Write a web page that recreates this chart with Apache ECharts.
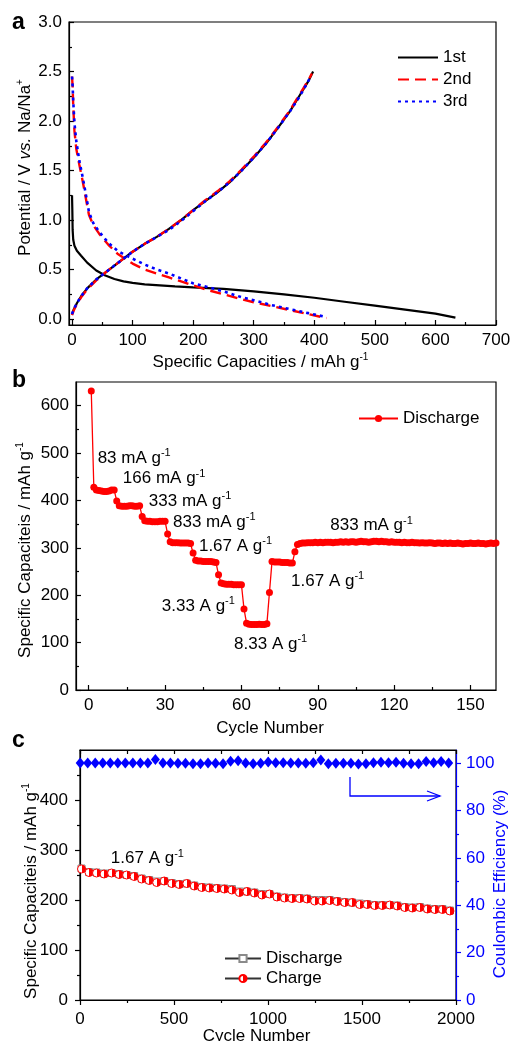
<!DOCTYPE html>
<html><head><meta charset="utf-8">
<script src="https://cdn.jsdelivr.net/npm/echarts@6/dist/echarts.min.js"></script>
<style>html,body{margin:0;padding:0;background:#fff}#c{width:510px;height:1041px}</style>
</head><body><div id="c"></div>
<script>
// ---------- Panel a: galvanostatic profiles (capacity mAh/g, potential V) ----------
const disch1 = [[0,1.25],[0.5,1.1],[1,0.9],[2,0.8],[4,0.74],[8,0.69],[15,0.64],[25,0.57],[40,0.49],[55,0.44],[70,0.405],[85,0.38],[100,0.365],[120,0.35],[145,0.34],[170,0.33],[200,0.32],[250,0.305],[300,0.28],[350,0.25],[400,0.215],[450,0.175],[500,0.135],[550,0.095],[600,0.055],[633,0.015]];
const charge1 = [[0,0.05],[3,0.1],[8,0.16],[15,0.23],[25,0.31],[40,0.4],[55,0.47],[70,0.54],[85,0.61],[100,0.68],[120,0.76],[140,0.83],[160,0.91],[180,1.0],[200,1.1],[220,1.19],[240,1.28],[260,1.38],[280,1.5],[300,1.63],[320,1.77],[340,1.93],[360,2.1],[375,2.25],[390,2.4],[398,2.5]];
const disch2 = [[0,2.45],[1,2.35],[2,2.15],[4,1.9],[7,1.72],[12,1.56],[18,1.38],[24,1.18],[28,1.05],[35,0.95],[45,0.86],[60,0.75],[75,0.66],[90,0.6],[100,0.56],[120,0.5],[140,0.46],[160,0.42],[180,0.38],[200,0.34],[220,0.3],[250,0.25],[280,0.2],[300,0.17],[330,0.13],[360,0.09],[390,0.05],[420,0.01]];
const charge2 = [[0,0.04],[3,0.09],[8,0.15],[15,0.22],[25,0.3],[40,0.39],[55,0.47],[70,0.54],[85,0.61],[100,0.68],[120,0.76],[140,0.83],[160,0.91],[180,1.0],[200,1.1],[220,1.2],[240,1.29],[260,1.39],[280,1.51],[300,1.64],[320,1.78],[340,1.94],[360,2.11],[375,2.26],[390,2.41],[396,2.48]];
const disch3 = [[0,2.45],[1,2.35],[2,2.2],[4,1.98],[7,1.8],[12,1.6],[18,1.42],[24,1.22],[28,1.08],[35,0.97],[45,0.88],[60,0.77],[75,0.69],[90,0.64],[100,0.61],[120,0.55],[140,0.5],[160,0.46],[180,0.41],[200,0.36],[220,0.33],[250,0.28],[280,0.22],[300,0.19],[330,0.14],[360,0.1],[390,0.06],[420,0.02]];
const charge3 = [[0,0.05],[3,0.1],[8,0.16],[15,0.23],[25,0.31],[40,0.4],[55,0.47],[70,0.54],[85,0.61],[100,0.68],[120,0.76],[140,0.83],[160,0.9],[180,0.99],[200,1.09],[220,1.19],[240,1.28],[260,1.38],[280,1.5],[300,1.63],[320,1.77],[340,1.93],[360,2.1],[375,2.24],[388,2.38],[394,2.45]];
const legendA = ['1st','2nd','3rd'];
const ticksAx = [0,100,200,300,400,500,600,700];
const minorAx = [50,150,250,350,450,550,650];
const ticksAy = [0,0.5,1.0,1.5,2.0,2.5,3.0];
const minorAy = [0.25,0.75,1.25,1.75,2.25,2.75];

// ---------- Panel b: rate capability (discharge capacity per cycle) ----------
const rateDischarge = [631,
 428,422,421,420,419,419,420,422,422,
 399,389,388,388,388,389,389,388,388,389,
 366,357,356,356,355,355,355,356,356,356,
 329,313,311,311,311,310,310,310,310,309,
 289,274,272,272,271,271,271,271,270,269,
 243,226,224,223,223,223,222,222,222,222,
 171,141,139,138,138,138,139,138,138,140,
 206,271,270,270,270,269,269,269,268,268,
 292,307,309,310,310,311,311,311,312,311,
 312,311,312,312,312,311,312,312,313,312,
 313,312,313,313,312,313,314,313,313,312,
 313,314,314,313,314,313,313,312,313,312,
 312,312,311,312,311,311,312,311,311,310,
 311,310,310,311,310,309,310,310,309,310,
 309,310,309,309,310,309,308,309,309,310,
 309,309,310,309,309,308,309,310,309,310];
const ticksBx = [0,30,60,90,120,150];
const minorBx = [15,45,75,105,135];
const ticksBy = [0,100,200,300,400,500,600];
const minorBy = [50,150,250,350,450,550];
const rateLabels = [
 [3.5,490,'83 mA g'],[13.4,446,'166 mA g'],[23.6,398,'333 mA g'],[33.1,354,'833 mA g'],
 [43.3,303,'1.67 A g'],[28.7,177,'3.33 A g'],[57.1,97,'8.33 A g'],[79.5,230,'1.67 A g'],[94.9,347,'833 mA g']];

// ---------- Panel c: long cycling at 1.67 A/g ----------
const capCycles = [8,48,88,128,168,208,248,288,328,368,408,448,488,528,568,608,648,688,728,768,808,848,888,928,968,1008,1048,1088,1128,1168,1208,1248,1288,1328,1368,1408,1448,1488,1528,1568,1608,1648,1688,1728,1768,1808,1848,1888,1928,1968];
const capCharge = [262,255,254,252,254,251,250,247,242,239,235,238,233,231,233,228,225,224,223,222,220,215,217,214,210,212,206,204,203,203,202,198,198,199,197,195,195,191,191,189,189,190,188,185,184,185,182,181,181,178];
const capDischarge = [263,256,255,253,254,252,250,248,243,240,237,238,234,232,233,229,226,225,224,223,222,217,217,215,212,212,207,205,204,204,203,200,200,200,198,196,195,193,192,190,190,190,189,186,185,186,183,182,182,179];
const ceCycles = [1,41,81,121,161,201,241,281,321,361,401,441,481,521,561,601,641,681,721,761,801,841,881,921,961,1001,1041,1081,1121,1161,1201,1241,1281,1321,1361,1401,1441,1481,1521,1561,1601,1641,1681,1721,1761,1801,1841,1881,1921,1961];
const ceValues = [100,100,100,100,100,100,100,100,100,100,101.5,100,100,99.9,99.9,99.7,99.7,100,99.9,99.7,100.7,101.0,100,99.7,99.9,100.4,100.1,100.1,100,100,99.9,100.1,101.3,99.7,99.9,99.9,99.9,99.6,99.7,100.1,100.3,100.1,100.3,99.9,99.7,99.7,100.6,100.1,100.6,100];
const ticksCx = [0,500,1000,1500,2000];
const minorCx = [250,750,1250,1750];
const ticksCy = [0,100,200,300,400];
const minorCy = [50,150,250,350,450];
const ticksCr = [0,20,40,60,80,100];
const minorCr = [10,30,50,70,90];
const cycLabel = [[164,283,'1.67 A g']];

// ---------- styling helpers ----------
const FONT = '"Liberation Sans", Arial, Helvetica, sans-serif';
const BLK = '#000';
const FS = 17;
const RICH = {
  t: {fontFamily: FONT, fontSize: FS, color: BLK, lineHeight: 21},
  i: {fontFamily: FONT, fontSize: FS, color: BLK, fontStyle: 'italic', lineHeight: 21},
  s: {fontFamily: FONT, fontSize: 10, color: BLK, verticalAlign: 'top', lineHeight: 12}
};
const LBL_RICH = {
  t: {fontFamily: FONT, fontSize: 17, color: BLK, lineHeight: 21},
  s: {fontFamily: FONT, fontSize: 11, color: BLK, verticalAlign: 'top', lineHeight: 12}
};

function mainAxis(o) {
  const color = o.color || BLK;
  const nts = o.nameRich ? {rich: o.nameRich} : {fontFamily: FONT, fontSize: FS, color: color, lineHeight: 21};
  if (o.namePad) nts.padding = o.namePad;
  return {
    type: 'value', gridIndex: o.grid, position: o.position, min: o.min, max: o.max,
    name: o.name || '', nameLocation: 'middle', nameGap: o.nameGap, nameMoveOverlap: false,
    nameTextStyle: nts,
    axisLine: {show: true, onZero: false, lineStyle: {color: color, width: 1.2}},
    axisTick: {show: true, inside: o.inside, length: 5, customValues: o.ticks, lineStyle: {color: color, width: 1.2}},
    axisLabel: {show: true, customValues: o.ticks, margin: o.margin, fontFamily: FONT, fontSize: FS, color: color,
      formatter: o.fmt || (v => String(v))},
    splitLine: {show: false}, minorTick: {show: false}
  };
}
function minorAxis(o) {
  const color = o.color || BLK;
  return {
    type: 'value', gridIndex: o.grid, position: o.position, min: o.min, max: o.max,
    axisLine: {show: !!o.line, onZero: false, lineStyle: {color: color, width: 1.2}},
    axisTick: {show: true, inside: o.inside, length: o.len || 3, customValues: o.ticks, lineStyle: {color: color, width: 1.2}},
    axisLabel: {show: false}, splitLine: {show: false}
  };
}

const ax = [-5, 700], ay = [-0.06, 3.0];
const bx = [-5, 160], by = [0, 650];
const cx = [0, 2000], cy = [0, 500], cr = [0, 105.5];

const xAxes = [
  mainAxis({grid:0, position:'bottom', min:ax[0], max:ax[1], ticks:ticksAx, inside:true, margin:7,
    name:'{t|Specific Capacities / mAh g}{s|-1}', nameRich: RICH, nameGap: 27, namePad:[0,44,0,0]}),
  minorAxis({grid:0, position:'bottom', min:ax[0], max:ax[1], ticks:minorAx, inside:true}),
  mainAxis({grid:1, position:'bottom', min:bx[0], max:bx[1], ticks:ticksBx, inside:true, margin:7,
    name:'Cycle Number', nameGap: 28, namePad:[0,32,0,0]}),
  minorAxis({grid:1, position:'bottom', min:bx[0], max:bx[1], ticks:minorBx, inside:true}),
  mainAxis({grid:2, position:'bottom', min:cx[0], max:cx[1], ticks:ticksCx, inside:false, margin:11,
    name:'Cycle Number', nameGap: 26, namePad:[0,23,0,0]}),
  minorAxis({grid:2, position:'bottom', min:cx[0], max:cx[1], ticks:minorCx, inside:false}),
  minorAxis({grid:2, position:'top', min:cx[0], max:cx[1], ticks:ticksCx.concat(minorCx), inside:true, line:true, len:4})
];

const yAxes = [
  mainAxis({grid:0, position:'left', min:ay[0], max:ay[1], ticks:ticksAy, inside:true, margin:7,
    fmt: v => v.toFixed(1),
    name:'{t|Potential / V }{i|vs.}{t| Na/Na}{s|+}', nameRich: RICH, nameGap: 33, namePad:[0,0,0,12]}),
  minorAxis({grid:0, position:'left', min:ay[0], max:ay[1], ticks:minorAy, inside:true}),
  mainAxis({grid:1, position:'left', min:by[0], max:by[1], ticks:ticksBy, inside:true, margin:7,
    name:'{t|Specific Capaciteis / mAh g}{s|-1}', nameRich: RICH, nameGap: 40, namePad:[0,28,0,0]}),
  minorAxis({grid:1, position:'left', min:by[0], max:by[1], ticks:minorBy, inside:true}),
  mainAxis({grid:2, position:'left', min:cy[0], max:cy[1], ticks:ticksCy, inside:false, margin:12,
    name:'{t|Specific Capaciteis / mAh g}{s|-1}', nameRich: RICH, nameGap: 38, namePad:[0,32,0,0]}),
  mainAxis({grid:2, position:'right', min:cr[0], max:cr[1], ticks:ticksCr, inside:false, margin:10, color:'#0000ff',
    name:'Coulombic Efficiency (%)', nameGap: 34, namePad:[0,18,0,0]}),
  minorAxis({grid:2, position:'left', min:cy[0], max:cy[1], ticks:minorCy, inside:false}),
  minorAxis({grid:2, position:'right', min:cr[0], max:cr[1], ticks:minorCr, inside:false, color:'#0000ff'})
];

function annot(list, xi, yi) {
  return {
    type: 'scatter', xAxisIndex: xi, yAxisIndex: yi, symbolSize: 0, silent: true, z: 10,
    itemStyle: {opacity: 1},
    data: list.map(d => ({value: [d[0], d[1]], name: d[2]})),
    label: {show: true, position: 'right', distance: 0, color: BLK, opacity: 1,
      formatter: p => '{t|' + p.name + '}{s|-1}', rich: LBL_RICH}
  };
}

const halfFill = new echarts.graphic.LinearGradient(0, 0, 1, 0, [
  {offset: 0, color: '#ffffff'}, {offset: 0.5, color: '#ffffff'},
  {offset: 0.5, color: '#ff0000'}, {offset: 1, color: '#ff0000'}]);

const series = [
  {name:'1st', type:'line', xAxisIndex:0, yAxisIndex:0, data:disch1, symbol:'none', color:BLK, lineStyle:{color:BLK,width:2.2}},
  {name:'1st', type:'line', xAxisIndex:0, yAxisIndex:0, data:charge1, symbol:'none', color:BLK, lineStyle:{color:BLK,width:2.2}},
  {name:'2nd', type:'line', xAxisIndex:0, yAxisIndex:0, data:disch2, symbol:'none', color:'#ff0000', lineStyle:{color:'#ff0000',width:2.4,type:[11,6]}},
  {name:'2nd', type:'line', xAxisIndex:0, yAxisIndex:0, data:charge2, symbol:'none', color:'#ff0000', lineStyle:{color:'#ff0000',width:2.4,type:[11,6]}},
  {name:'3rd', type:'line', xAxisIndex:0, yAxisIndex:0, data:disch3, symbol:'none', color:'#0000ff', lineStyle:{color:'#0000ff',width:2.6,type:[3,4]}},
  {name:'3rd', type:'line', xAxisIndex:0, yAxisIndex:0, data:charge3, symbol:'none', color:'#0000ff', lineStyle:{color:'#0000ff',width:2.6,type:[3,4]}},
  {name:'Discharge', type:'line', xAxisIndex:2, yAxisIndex:2, data: rateDischarge.map((v,i) => [i+1, v]),
    symbol:'circle', symbolSize:7, color:'#ff0000', itemStyle:{color:'#ff0000'}, lineStyle:{color:'#ff0000', width:1.3}},
  annot(rateLabels, 2, 2),
  {name:'c-Discharge', type:'line', xAxisIndex:4, yAxisIndex:4, data: capCycles.map((c,i) => [c, capDischarge[i]]),
    symbol:'rect', symbolSize:7, itemStyle:{color:'#ffffff', borderColor:'#8a8a8a', borderWidth:1}, lineStyle:{color:'#333', width:1.2}},
  {name:'c-Charge', type:'line', xAxisIndex:4, yAxisIndex:4, data: capCycles.map((c,i) => [c, capCharge[i]]),
    symbol:'circle', symbolSize:8, itemStyle:{color:halfFill, borderColor:'#ff0000', borderWidth:1}, lineStyle:{color:'#333', width:1.2}},
  {name:'CE', type:'scatter', xAxisIndex:4, yAxisIndex:5, data: ceCycles.map((c,i) => [c, ceValues[i]]),
    symbol:'diamond', symbolSize:[9,11], itemStyle:{color:'#0000ff', opacity:1}},
  annot(cycLabel, 4, 4)
];

const legTxt = {fontFamily:FONT, fontSize:17, color:BLK, lineHeight:17};
const chart = echarts.init(document.getElementById('c'), null, {renderer:'canvas'});
chart.setOption({
  animation: false,
  backgroundColor: '#fff',
  grid: [
    {left:69, top:22, width:427, height:303, show:true, borderColor:BLK, borderWidth:1.2, backgroundColor:'transparent', outerBoundsMode:'none', containLabel:false},
    {left:76, top:382, width:420, height:308, show:true, borderColor:BLK, borderWidth:1.2, backgroundColor:'transparent', outerBoundsMode:'none', containLabel:false},
    {left:80, top:750, width:376, height:250, show:true, borderColor:BLK, borderWidth:1.2, backgroundColor:'transparent', outerBoundsMode:'none', containLabel:false}
  ],
  xAxis: xAxes,
  yAxis: yAxes,
  legend: [
    {data: legendA, orient:'vertical', left:397, top:49, padding:0, itemWidth:40, itemHeight:12, itemGap:5, selectedMode:false,
      itemStyle:{opacity:0}, textStyle:legTxt},
    {data: ['Discharge'], left:358, top:410, padding:0, itemWidth:39, itemHeight:9, selectedMode:false,
      textStyle:legTxt},
    {data: ['c-Discharge','c-Charge'], orient:'vertical', left:224, top:950, padding:0, itemWidth:36, itemHeight:9, itemGap:3, selectedMode:false,
      formatter: n => n.replace(/^c-/, ''), textStyle:legTxt}
  ],
  graphic: [
    {type:'text', left:12, top:11, style:{text:'a', font:'bold 23px ' + FONT, fill:BLK}},
    {type:'text', left:12, top:369, style:{text:'b', font:'bold 23px ' + FONT, fill:BLK}},
    {type:'text', left:12, top:729, style:{text:'c', font:'bold 23px ' + FONT, fill:BLK}},
    {type:'polyline', shape:{points:[[350,777],[350,796],[440,796]]}, style:{stroke:'#0000ff', lineWidth:1.3, fill:null}},
    {type:'polyline', shape:{points:[[427,791],[440,796],[427,801]]}, style:{stroke:'#0000ff', lineWidth:1.3, fill:null}}
  ],
  series: series
});
</script>
</body></html>
